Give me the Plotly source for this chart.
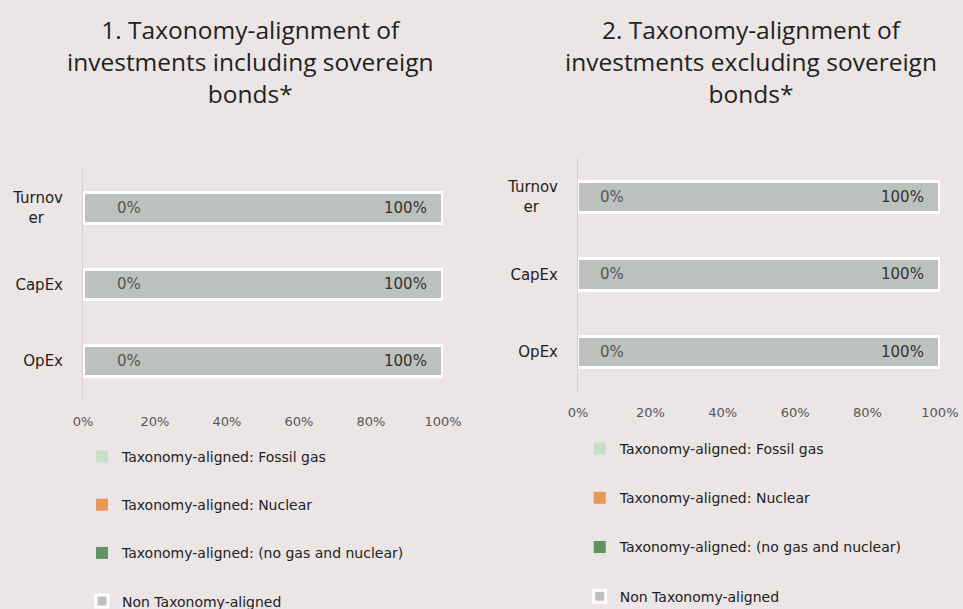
import plotly.graph_objects as go

categories = ["Turnover", "CapEx", "OpEx"]
y_ticklabels = ["Turnov<br>er\u00a0\u00a0\u00a0\u00a0", "CapEx", "OpEx"]
series_names = [
    "Taxonomy-aligned: Fossil gas",
    "Taxonomy-aligned: Nuclear",
    "Taxonomy-aligned: (no gas and nuclear)",
    "Non Taxonomy-aligned",
]
series_colors = ["#c9e0c4", "#e79a55", "#5e9460", "#bcc1bd"]
# panel 1: including sovereign bonds
incl_fossil = [0, 0, 0]
incl_nuclear = [0, 0, 0]
incl_aligned = [0, 0, 0]
incl_non = [100, 100, 100]
# panel 2: excluding sovereign bonds
excl_fossil = [0, 0, 0]
excl_nuclear = [0, 0, 0]
excl_aligned = [0, 0, 0]
excl_non = [100, 100, 100]
x_ticks = [0, 20, 40, 60, 80, 100]
x_ticklabels = ["0%", "20%", "40%", "60%", "80%", "100%"]
titles = [
    "1. Taxonomy-alignment of<br>investments including sovereign<br>bonds*",
    "2. Taxonomy-alignment of<br>investments excluding sovereign<br>bonds*",
]

BG = "#ece5e6"
fig = go.Figure()

panels = [
    (("x", "y"), "legend", [incl_fossil, incl_nuclear, incl_aligned, incl_non], 32),
    (("x2", "y2"), "legend2", [excl_fossil, excl_nuclear, excl_aligned, excl_non], 20),
]

for (xa, ya), leg, data, zshift in panels:
    for i, (name, color, vals) in enumerate(zip(series_names, series_colors, data)):
        is_non = i == 3
        fig.add_trace(go.Bar(
            y=categories, x=vals, orientation="h", name=name,
            marker=dict(color=color, line=dict(color="white", width=3 if is_non else 0)),
            xaxis=xa, yaxis=ya, legend=leg, legendgroup=f"{leg}_{i}",
            hoverinfo="skip",
        ))
    # "0%" labels of the aligned share
    for cat, v in zip(categories, data[2]):
        fig.add_annotation(
            x=v, y=cat, xref=xa, yref=ya, text=f"{v}%", showarrow=False,
            xanchor="left", xshift=zshift,
            font=dict(family="DejaVu Sans", size=15, color="#555555"),
        )
    # "100%" labels of the non-aligned share, at the end of the stacked bar
    for cat, f, n, a, v in zip(categories, data[0], data[1], data[2], data[3]):
        fig.add_annotation(
            x=f + n + a + v, y=cat, xref=xa, yref=ya, text=f"{v}%", showarrow=False,
            xanchor="right", xshift=-14,
            font=dict(family="DejaVu Sans", size=15, color="#333333"),
        )

axis_common = dict(
    range=[0, 100], tickvals=x_ticks, ticktext=x_ticklabels, showgrid=False,
    zeroline=False, showline=False, ticks="", automargin=False,
    ticklabelstandoff=12,
    tickfont=dict(family="DejaVu Sans", size=13, color="#555555"),
)
yaxis_common = dict(
    autorange="reversed", showgrid=False, zeroline=False, showline=True,
    linecolor="#d6d0d0", linewidth=1, ticks="", automargin=False,
    tickvals=categories, ticktext=y_ticklabels, ticklabelstandoff=16,
    tickfont=dict(family="DejaVu Sans", size=15, color="#222222"),
)

fig.update_layout(
    width=963, height=609,
    margin=dict(l=0, r=0, t=0, b=0, autoexpand=False),
    paper_bgcolor=BG, plot_bgcolor=BG,
    barmode="stack", bargap=0.6,
    showlegend=True,
    xaxis=dict(domain=[0.0862, 0.46], anchor="y", **axis_common),
    yaxis=dict(domain=[0.344, 0.7217], anchor="x", **yaxis_common),
    xaxis2=dict(domain=[0.6002, 0.976], anchor="y2", **axis_common),
    yaxis2=dict(domain=[0.358, 0.7406], anchor="x2", **yaxis_common),
    legend=dict(x=0.0851, y=0.276, xanchor="left", yanchor="top",
                bgcolor="rgba(0,0,0,0)", tracegroupgap=27, traceorder="grouped",
                font=dict(family="DejaVu Sans", size=14, color="#222222")),
    legend2=dict(x=0.602, y=0.289, xanchor="left", yanchor="top",
                 bgcolor="rgba(0,0,0,0)", tracegroupgap=28, traceorder="grouped",
                 font=dict(family="DejaVu Sans", size=14, color="#222222")),
    font=dict(family="DejaVu Sans"),
)

fig.add_annotation(text=titles[0], x=0.26, y=0.982, xref="paper", yref="paper",
                   xanchor="center", yanchor="top", showarrow=False,
                   font=dict(family="Open Sans", size=24.5, color="#222222"))
fig.add_annotation(text=titles[1], x=0.78, y=0.982, xref="paper", yref="paper",
                   xanchor="center", yanchor="top", showarrow=False,
                   font=dict(family="Open Sans", size=24.5, color="#222222"))

fig.write_html(
    "out.html",
    config={"displayModeBar": False},
    post_script="document.body.style.margin='0';document.body.style.background='%s';" % BG,
)
